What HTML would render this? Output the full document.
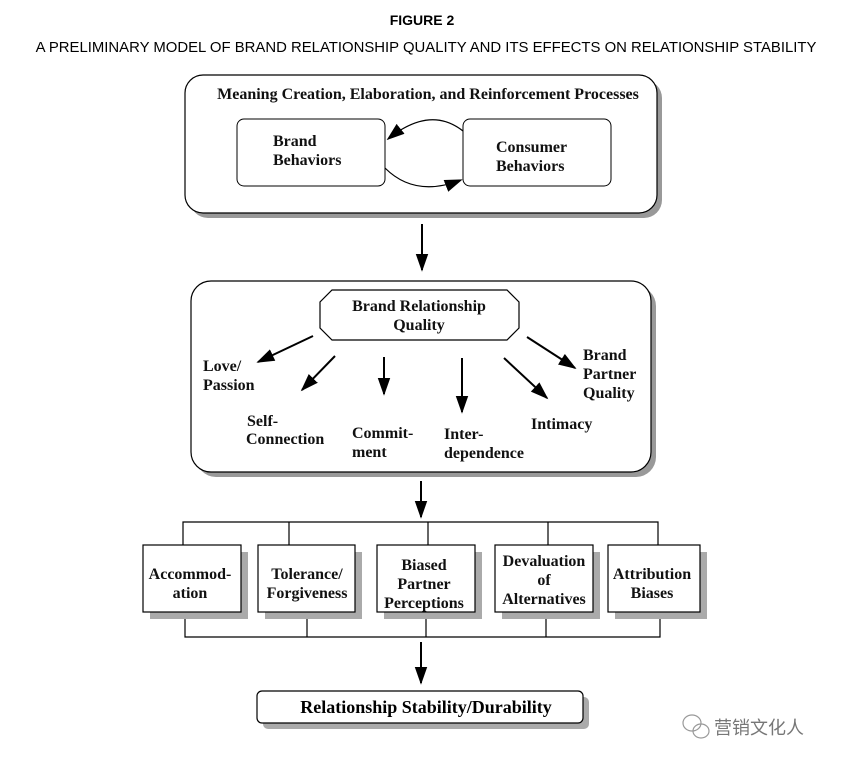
<!DOCTYPE html>
<html><head><meta charset="utf-8"><style>
html,body{margin:0;padding:0;background:#fff;}
svg{display:block}
.s{font-family:"Liberation Serif",serif;font-weight:bold;font-size:16px;fill:#111}
</style></head><body>
<svg width="844" height="764" viewBox="0 0 844 764" xmlns="http://www.w3.org/2000/svg">
<defs>
<marker id="b" viewBox="0 0 10 10" refX="9" refY="5" markerWidth="18" markerHeight="18" orient="auto" markerUnits="userSpaceOnUse"><path d="M0,1.5 L10,5 L0,8.5 z" fill="#000"/></marker>
</defs>
<text x="422" y="25" text-anchor="middle" font-family="Liberation Sans,sans-serif" font-weight="bold" font-size="14">FIGURE 2</text>
<text x="426" y="52" text-anchor="middle" font-family="Liberation Sans,sans-serif" font-size="14.9">A PRELIMINARY MODEL OF BRAND RELATIONSHIP QUALITY AND ITS EFFECTS ON RELATIONSHIP STABILITY</text>

<rect x="190" y="80" width="472" height="138" rx="18" fill="#999"/>
<rect x="185" y="75" width="472" height="138" rx="18" fill="#fff" stroke="#000" stroke-width="1.2"/>
<text x="428" y="99" text-anchor="middle" class="s">Meaning Creation, Elaboration, and Reinforcement Processes</text>
<rect x="237" y="119" width="148" height="67" rx="7" fill="#fff" stroke="#000"/>
<rect x="463" y="119" width="148" height="67" rx="7" fill="#fff" stroke="#000"/>
<text x="273" y="146" class="s">Brand</text><text x="273" y="165" class="s">Behaviors</text>
<text x="496" y="152" class="s">Consumer</text><text x="496" y="171" class="s">Behaviors</text>
<path d="M463,131 Q430,105 388,139" fill="none" stroke="#000" stroke-width="1.2" marker-end="url(#b)"/>
<path d="M385,168 Q415,198 461,180" fill="none" stroke="#000" stroke-width="1.2" marker-end="url(#b)"/>

<line x1="422" y1="224" x2="422" y2="270" stroke="#000" stroke-width="2" marker-end="url(#b)"/>

<rect x="196" y="286" width="460" height="191" rx="20" fill="#999"/>
<rect x="191" y="281" width="460" height="191" rx="20" fill="#fff" stroke="#000" stroke-width="1.2"/>
<polygon points="332,290 507,290 519,302 519,328 507,340 332,340 320,328 320,302" fill="#fff" stroke="#000" stroke-width="1.2"/>
<text x="419" y="311" text-anchor="middle" class="s">Brand Relationship</text>
<text x="419" y="330" text-anchor="middle" class="s">Quality</text>
<g stroke="#000" stroke-width="2" fill="none">
<line x1="313" y1="336" x2="258" y2="362" marker-end="url(#b)"/>
<line x1="335" y1="356" x2="302" y2="390" marker-end="url(#b)"/>
<line x1="384" y1="357" x2="384" y2="394" marker-end="url(#b)"/>
<line x1="462" y1="358" x2="462" y2="412" marker-end="url(#b)"/>
<line x1="504" y1="358" x2="547" y2="398" marker-end="url(#b)"/>
<line x1="527" y1="337" x2="575" y2="368" marker-end="url(#b)"/>
</g>
<text x="203" y="371" class="s">Love/</text><text x="203" y="390" class="s">Passion</text>
<text x="247" y="426" class="s">Self-</text><text x="246" y="444" class="s">Connection</text>
<text x="352" y="438" class="s">Commit-</text><text x="352" y="457" class="s">ment</text>
<text x="444" y="439" class="s">Inter-</text><text x="444" y="458" class="s">dependence</text>
<text x="531" y="429" class="s">Intimacy</text>
<text x="583" y="360" class="s">Brand</text><text x="583" y="379" class="s">Partner</text><text x="583" y="398" class="s">Quality</text>

<line x1="421" y1="481" x2="421" y2="517" stroke="#000" stroke-width="2" marker-end="url(#b)"/>
<g stroke="#000" stroke-width="1.2" fill="none">
<path d="M183,545 V522 H658 V545 M289,522 V545 M428,522 V545 M548,522 V545"/>
<path d="M185,615 V637 H660 V615 M307,615 V637 M426,615 V637 M546,615 V637"/>
</g>
<g fill="#aaa">
<rect x="150" y="552" width="98" height="67"/><rect x="265" y="552" width="97" height="67"/>
<rect x="384" y="552" width="98" height="67"/><rect x="502" y="552" width="98" height="67"/>
<rect x="615" y="552" width="92" height="67"/>
</g>
<g fill="#fff" stroke="#000" stroke-width="1.2">
<rect x="143" y="545" width="98" height="67"/><rect x="258" y="545" width="97" height="67"/>
<rect x="377" y="545" width="98" height="67"/><rect x="495" y="545" width="98" height="67"/>
<rect x="608" y="545" width="92" height="67"/>
</g>
<g text-anchor="middle">
<text x="190" y="579" class="s">Accommod-</text><text x="190" y="598" class="s">ation</text>
<text x="307" y="579" class="s">Tolerance/</text><text x="307" y="598" class="s">Forgiveness</text>
<text x="424" y="570" class="s">Biased</text><text x="424" y="589" class="s">Partner</text><text x="424" y="608" class="s">Perceptions</text>
<text x="544" y="566" class="s">Devaluation</text><text x="544" y="585" class="s">of</text><text x="544" y="604" class="s">Alternatives</text>
<text x="652" y="579" class="s">Attribution</text><text x="652" y="598" class="s">Biases</text>
</g>
<line x1="421" y1="642" x2="421" y2="683" stroke="#000" stroke-width="2" marker-end="url(#b)"/>
<rect x="263" y="697" width="326" height="32" rx="5" fill="#aaa"/>
<rect x="257" y="691" width="326" height="32" rx="5" fill="#fff" stroke="#000" stroke-width="1.2"/>
<text x="426" y="713" text-anchor="middle" font-family="Liberation Serif,serif" font-weight="bold" font-size="18">Relationship Stability/Durability</text>
<g fill="none" stroke="#999" stroke-width="1.2"><ellipse cx="692" cy="723" rx="9" ry="8"/><ellipse cx="701" cy="731" rx="8" ry="7"/></g>
<text x="714" y="734" font-family="Noto Sans CJK SC,sans-serif" font-size="18" fill="#777">营销文化人</text>
</svg>
</body></html>
